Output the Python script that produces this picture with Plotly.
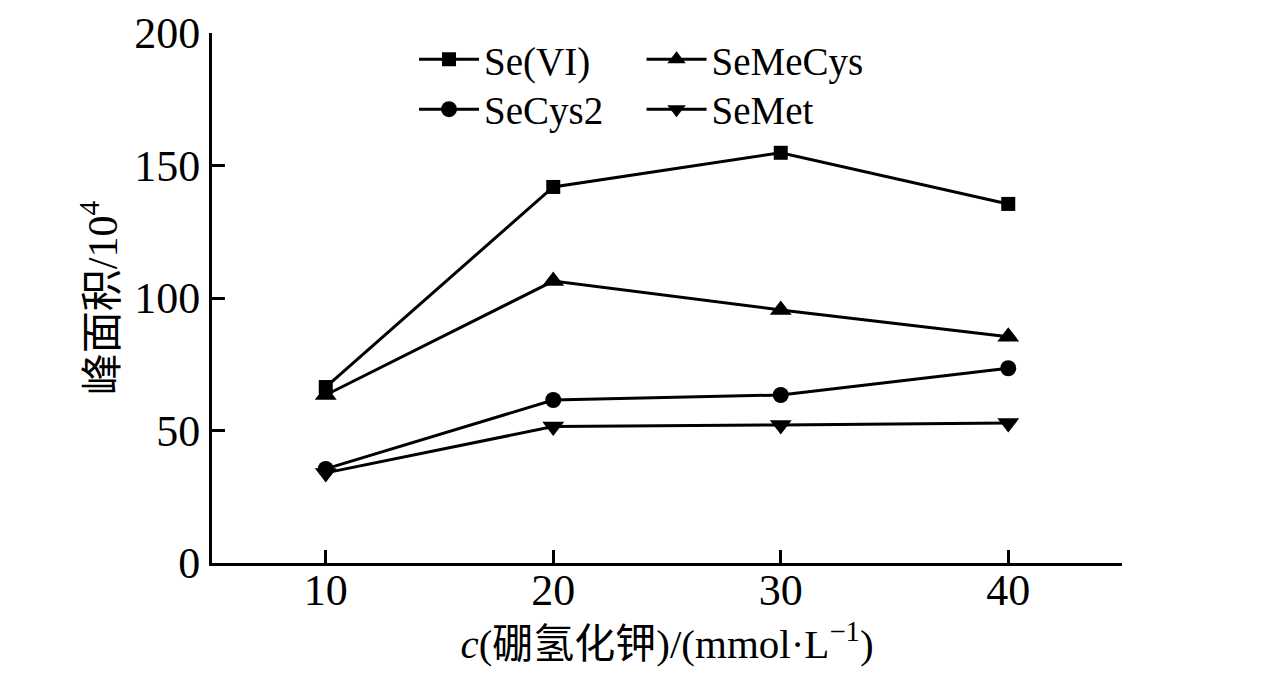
import plotly.graph_objects as go

x_vals = [10, 20, 30, 40]
se_vi = [66.4, 141.9, 154.8, 135.5]
semecys = [63.4, 106.4, 95.5, 85.4]
secys2 = [35.5, 61.5, 63.4, 73.5]
semet = [34.0, 51.5, 52.1, 52.8]

x_ticks = [10, 20, 30, 40]
y_ticks = [0, 50, 100, 150, 200]

FONT = "Liberation Serif, Times New Roman, Noto Sans CJK SC, serif"

series = [
    ("Se(VI)", se_vi, "square", 14, "legend"),
    ("SeMeCys", semecys, "triangle-up", 19, "legend2"),
    ("SeCys2", secys2, "circle", 16, "legend3"),
    ("SeMet", semet, "triangle-down", 19, "legend4"),
]

fig = go.Figure()
for name, vals, sym, sz, lg in series:
    fig.add_trace(go.Scatter(
        x=x_vals, y=vals, name=name, mode="lines+markers",
        line=dict(color="black", width=3),
        marker=dict(symbol=sym, size=sz, color="black"),
        legend=lg,
    ))

def leg(x, y):
    return dict(x=x, y=y, xanchor="left", yanchor="middle",
                bgcolor="rgba(0,0,0,0)", font=dict(size=39),
                itemwidth=60)

fig.update_layout(
    width=1276, height=676,
    margin=dict(l=204, r=162, t=25, b=121, autoexpand=False),
    paper_bgcolor="white", plot_bgcolor="white",
    font=dict(family=FONT, size=40, color="black"),
    showlegend=True,
    legend=leg(0.222, 0.950),
    legend2=leg(0.472, 0.950),
    legend3=leg(0.222, 0.856),
    legend4=leg(0.472, 0.856),
    xaxis=dict(
        range=[5, 45], tickvals=x_ticks, ticktext=[str(v) for v in x_ticks],
        showgrid=False, zeroline=False, showline=True, linecolor="black", linewidth=3,
        ticks="inside", ticklen=13, tickwidth=3, tickcolor="black",
        tickfont=dict(size=44), ticklabelstandoff=-14, automargin=False,
        title=dict(text="<i>c</i>(硼氢化钾)/(mmol·L<sup>−1</sup>)", font=dict(size=41), standoff=10),
    ),
    yaxis=dict(
        range=[0, 200], tickvals=y_ticks, ticktext=[str(v) for v in y_ticks],
        showgrid=False, zeroline=False, showline=True, linecolor="black", linewidth=3,
        ticks="inside", ticklen=13, tickwidth=3, tickcolor="black",
        tickfont=dict(size=44), automargin=True,
        title=dict(text="峰面积/10<sup>4</sup>", font=dict(size=42), standoff=4),
    ),
)

fig.write_html("out.html")
